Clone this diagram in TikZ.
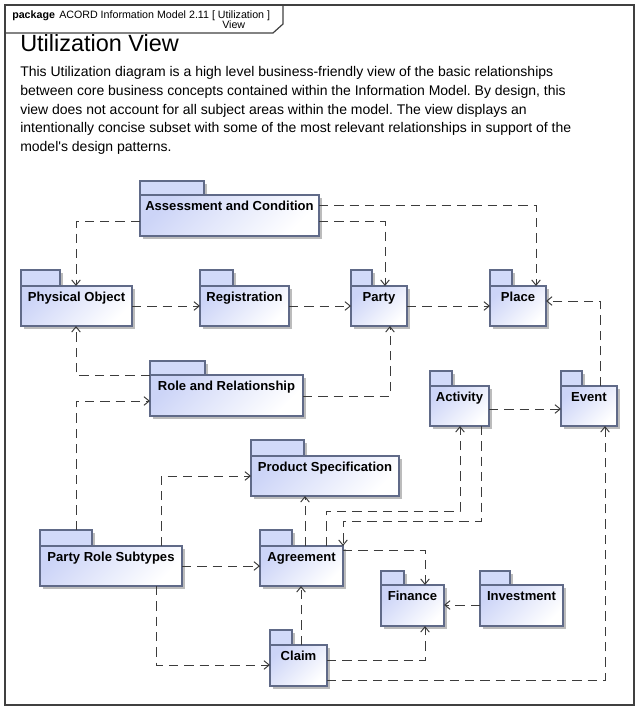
\documentclass[tikz,border=0pt]{standalone}
\usepackage{fontspec}
\setmainfont{Liberation Sans}
\usetikzlibrary{arrows.meta,calc}
\frenchspacing
\definecolor{pkgblue}{RGB}{204,212,247}
\definecolor{tabblue}{RGB}{210,218,249}
\definecolor{pkgline}{RGB}{96,106,136}
\definecolor{shadowc}{RGB}{188,188,188}
\definecolor{depline}{RGB}{60,60,60}
\tikzset{
  pkgbody/.style={draw=pkgline, line width=0.8pt, top color=pkgblue, bottom color=white,
    shading angle=45, inner sep=0pt, outer sep=0pt, anchor=north west},
  pkgtab/.style={draw=pkgline, fill=tabblue, line width=0.8pt},
  pkgshadow/.style={fill=shadowc},
  pkglabel/.style={font=\fontsize{9.8}{11}\selectfont\bfseries, anchor=base, inner sep=0pt},
  dep/.style={draw=depline, line width=0.75pt, dash pattern=on 7pt off 4.5pt,
    -{Straight Barb[length=4pt,width=6.5pt]}},
  frameline/.style={draw=black!75, line width=0.9pt},
  hdrtext/.style={font=\fontsize{8}{9.6}\selectfont, anchor=base west, inner sep=0pt},
  bodytext/.style={font=\fontsize{10.5}{12.6}\selectfont, anchor=base west, inner sep=0pt},
}
% name, left, tabtop, tabright, right, bodytop, bottom, label
\newcommand\pkgbox[8]{%
  \fill[pkgshadow] (#2+2.5,#6+2.5) rectangle (#5+2.5,#7+2.5);
  \fill[pkgshadow] (#2+2.5,#3+2.5) rectangle (#4+2.5,#6);
  \draw[pkgtab] (#2,#3) rectangle (#4,#6);
  \node[pkgbody, minimum width={(#5-#2)*0.75pt}, minimum height={(#7-#6)*0.75pt}] (#1) at (#2,#6) {};
  \node[pkglabel] (#1-label) at ($(#1.north)+(0,15)$) {#8};
}
\begin{document}
\begin{tikzpicture}[x=0.75pt,y=-0.75pt]
\useasboundingbox (0,0) rectangle (641,711);
% frame
\draw[frameline] (5,5) rectangle (634,705);
\draw[frameline] (5,33) -- (273,33) -- (283,24) -- (283,5);
\node[hdrtext, font=\fontsize{8}{9.6}\selectfont\bfseries] (hdrkw) at (12,18.5) {package};
\node[hdrtext] (hdrname) at (59,18.5) {ACORD Information Model 2.11 [ Utilization ]};
\node[hdrtext] (hdrname2) at (222,28.5) {View};
% title and description
\node[anchor=base west, inner sep=0pt, font=\fontsize{17.6}{20}\selectfont] (title) at (20,51) {Utilization View};
\node[bodytext] (d1) at (20,76.7) {This Utilization diagram is a high level business-friendly view of the basic relationships};
\node[bodytext] (d2) at (20,95.4) {between core business concepts contained within the Information Model. By design, this};
\node[bodytext] (d3) at (20,114.1) {view does not account for all subject areas within the model. The view displays an};
\node[bodytext] (d4) at (20,132.8) {intentionally concise subset with some of the most relevant relationships in support of the};
\node[bodytext] (d5) at (20,151.5) {model\textquotesingle s design patterns.};
% packages
\pkgbox{ac}{140}{181}{204}{319}{195}{236}{Assessment and Condition}
\pkgbox{po}{21}{270}{60}{132}{286}{326}{Physical Object}
\pkgbox{reg}{200}{270}{233}{289}{286}{326}{Registration}
\pkgbox{party}{351}{270}{372}{407}{286}{326}{Party}
\pkgbox{place}{490}{270}{512}{546}{286}{326}{Place}
\pkgbox{rr}{150}{361}{205}{303}{375}{416}{Role and Relationship}
\pkgbox{act}{430}{371}{452}{489}{386}{426}{Activity}
\pkgbox{ev}{561}{371}{582}{617}{386}{426}{Event}
\pkgbox{ps}{251}{440}{304}{399}{456}{496}{Product Specification}
\pkgbox{prs}{40}{530}{92}{182}{546}{586}{Party Role Subtypes}
\pkgbox{agr}{260}{530}{292}{343}{546}{586}{Agreement}
\pkgbox{fin}{381}{571}{404}{444}{585}{626}{Finance}
\pkgbox{inv}{480}{571}{510}{563}{585}{626}{Investment}
\pkgbox{cl}{270}{630}{292}{327}{645}{686}{Claim}
% dependencies
\draw[dep] (ac.west |- 0,221) -- (76,221) -- (76,0 |- po.north);
\draw[dep] (ac.east |- 0,221) -- (385,221) -- (385,0 |- party.north);
\draw[dep] (ac.east |- 0,205) -- (536,205) -- (536,0 |- place.north);
\draw[dep] (po.east |- 0,306) -- (reg.west |- 0,306);
\draw[dep] (reg.east |- 0,306) -- (party.west |- 0,306);
\draw[dep] (party.east |- 0,306) -- (place.west |- 0,306);
\draw[dep] (rr.north west) -- (76,375) -- (76,0 |- po.south);
\draw[dep] (rr.east |- 0,396) -- (390,396) -- (390,0 |- party.south);
\draw[dep] (76,530) -- (76,401) -- (rr.west |- 0,401);
\draw[dep] (161,0 |- prs.north) -- (161,476) -- (ps.west |- 0,476);
\draw[dep] (prs.east |- 0,566) -- (agr.west |- 0,566);
\draw[dep] (305,0 |- agr.north) -- (305,0 |- ps.south);
\draw[dep] (326,0 |- agr.north) -- (326,511) -- (460,511) -- (460,0 |- act.south);
\draw[dep] (481,0 |- act.south) -- (481,521) -- (343,521) -- (agr.north east);
\draw[dep] (act.east |- 0,409) -- (ev.west |- 0,409);
\draw[dep] (600,0 |- ev.north) -- (600,301) -- (place.east |- 0,301);
\draw[dep] (agr.east |- 0,550) -- (425,550) -- (425,0 |- fin.north);
\draw[dep] (inv.west |- 0,605) -- (fin.east |- 0,605);
\draw[dep] (156,0 |- prs.south) -- (156,665) -- (cl.west |- 0,665);
\draw[dep] (301,0 |- cl.north) -- (301,0 |- agr.south);
\draw[dep] (cl.east |- 0,660) -- (425,660) -- (425,0 |- fin.south);
\draw[dep] (cl.east |- 0,680) -- (605,680) -- (605,0 |- ev.south);
\end{tikzpicture}
\end{document}
